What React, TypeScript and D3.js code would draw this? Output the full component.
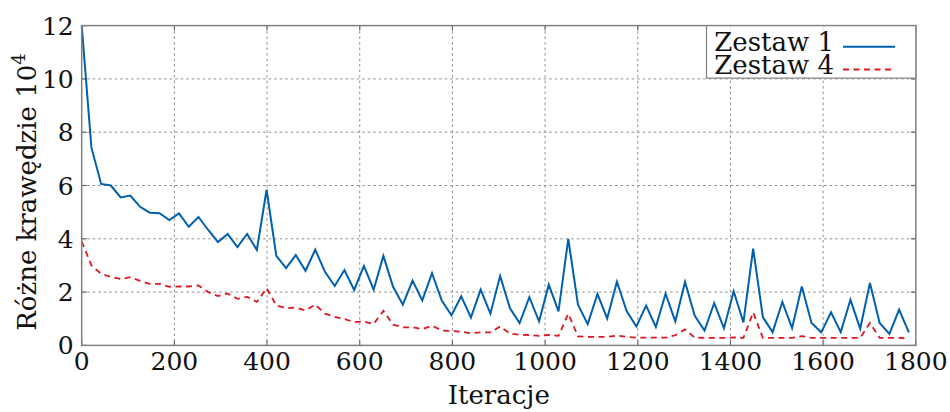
import React from "react";
import * as d3 from "d3";

const iterations = [
  0, 21, 42, 63, 84, 105, 126, 147, 168, 189, 210, 231, 252, 273, 294, 315, 336, 357, 378, 399,
  420, 441, 462, 483, 504, 525, 546, 567, 588, 609, 630, 651, 672, 693, 714, 735, 756, 777, 798, 819,
  840, 861, 882, 903, 924, 945, 966, 987, 1008, 1029, 1050, 1071, 1092, 1113, 1134, 1155, 1176, 1197, 1218, 1239,
  1260, 1281, 1302, 1323, 1344, 1365, 1386, 1407, 1428, 1449, 1470, 1491, 1512, 1533, 1554, 1575, 1596, 1617, 1638, 1659,
  1680, 1701, 1722, 1743, 1764, 1785,
];

const zestaw1 = [
  12.0, 7.42, 6.06, 6.0, 5.55, 5.62, 5.2, 4.98, 4.96, 4.7, 4.95, 4.45, 4.82, 4.33, 3.88, 4.18, 3.69, 4.18, 3.58, 5.84,
  3.36, 2.9, 3.39, 2.8, 3.59, 2.76, 2.23, 2.83, 2.08, 2.98, 2.09, 3.36, 2.2, 1.53, 2.43, 1.69, 2.71, 1.68, 1.13, 1.84,
  1.04, 2.09, 1.19, 2.61, 1.4, 0.84, 1.81, 0.9, 2.28, 1.28, 4.0, 1.53, 0.8, 1.93, 1.01, 2.39, 1.29, 0.71, 1.49, 0.69,
  1.94, 0.9, 2.38, 1.11, 0.56, 1.59, 0.64, 2.03, 0.86, 3.63, 1.06, 0.5, 1.63, 0.65, 2.21, 0.84, 0.49, 1.24, 0.5, 1.71,
  0.63, 2.34, 0.84, 0.43, 1.34, 0.49,
];

const zestaw4 = [
  3.9, 3.0, 2.69, 2.57, 2.49, 2.56, 2.42, 2.31, 2.31, 2.2, 2.21, 2.21, 2.25, 2.0, 1.85, 1.95, 1.75, 1.82, 1.63, 2.15,
  1.5, 1.39, 1.42, 1.31, 1.53, 1.19, 1.07, 0.99, 0.87, 0.9, 0.8, 1.3, 0.78, 0.68, 0.68, 0.61, 0.74, 0.56, 0.54, 0.51,
  0.46, 0.49, 0.49, 0.71, 0.44, 0.4, 0.39, 0.36, 0.39, 0.36, 1.19, 0.34, 0.32, 0.32, 0.32, 0.37, 0.32, 0.29, 0.29, 0.29,
  0.29, 0.38, 0.6, 0.29, 0.28, 0.28, 0.28, 0.3, 0.28, 1.24, 0.28, 0.28, 0.28, 0.28, 0.35, 0.28, 0.28, 0.28, 0.28, 0.28,
  0.28, 0.84, 0.28, 0.28, 0.28, 0.26,
];

const xTicks = [0, 200, 400, 600, 800, 1000, 1200, 1400, 1600, 1800];
const yTicks = [0, 2, 4, 6, 8, 10, 12];
const seriesNames = ["Zestaw 1", "Zestaw 4"];
const xLabel = "Iteracje";
const yLabel = "Różne krawędzie 10";
const yLabelSup = "4";

const W = 950;
const H = 412;
const L = 81.7;
const R = 915.8;
const T = 25.6;
const B = 345.4;
const FONT = "'DejaVu Serif', serif";
const BLUE = "#0060ad";
const RED = "#dd181f";
const GRID = "#8c8c8c";

export default function App() {
  const x = d3.scaleLinear().domain([0, 1800]).range([L, R]);
  const y = d3.scaleLinear().domain([0, 12]).range([B, T]);
  const line = d3
    .line<number>()
    .x((_, i) => x(iterations[i]))
    .y((d) => y(d));

  const txt = { fontFamily: FONT };

  return (
    <svg
      width={W}
      height={H}
      style={{ position: "absolute", left: 0, top: 0, background: "#fff", fontFamily: FONT }}
    >
      {xTicks.slice(1, -1).map((t) => (
        <line key={"gx" + t} x1={x(t)} x2={x(t)} y1={T} y2={B} stroke={GRID} strokeWidth={1} strokeDasharray="2.5,3" />
      ))}
      {yTicks.slice(1, -1).map((t) => (
        <line key={"gy" + t} x1={L} x2={R} y1={y(t)} y2={y(t)} stroke={GRID} strokeWidth={1} strokeDasharray="2.5,3" />
      ))}
      {xTicks.map((t) => (
        <g key={"tx" + t}>
          <line x1={x(t)} x2={x(t)} y1={B} y2={B - 5} stroke="#666" strokeWidth={1.2} />
          <line x1={x(t)} x2={x(t)} y1={T} y2={T + 5} stroke="#666" strokeWidth={1.2} />
          <text x={x(t)} y={B + 25} textAnchor="middle" fontSize={25} fill="#111" style={txt}>
            {t}
          </text>
        </g>
      ))}
      {yTicks.map((t) => (
        <g key={"ty" + t}>
          <line x1={L} x2={L + 5} y1={y(t)} y2={y(t)} stroke="#666" strokeWidth={1.2} />
          <line x1={R} x2={R - 5} y1={y(t)} y2={y(t)} stroke="#666" strokeWidth={1.2} />
          <text x={L - 8} y={y(t) + 9} textAnchor="end" fontSize={25} fill="#111" style={txt}>
            {t}
          </text>
        </g>
      ))}
      <path d={line(zestaw4) || ""} fill="none" stroke={RED} strokeWidth={1.8} strokeDasharray="6,4.5" />
      <path d={line(zestaw1) || ""} fill="none" stroke={BLUE} strokeWidth={2} />
      <rect x={L} y={T} width={R - L} height={B - T} fill="none" stroke="#808080" strokeWidth={1.5} />
      <rect x={706.5} y={T} width={R - 706.5} height={52.5} fill="#fff" fillOpacity={0.85} stroke="#808080" strokeWidth={1.2} />
      <text x={834} y={51} textAnchor="end" fontSize={26} fill="#111" style={txt}>
        {seriesNames[0]}
      </text>
      <line x1={843} x2={895} y1={46.7} y2={46.7} stroke={BLUE} strokeWidth={2} />
      <text x={834} y={74} textAnchor="end" fontSize={26} fill="#111" style={txt}>
        {seriesNames[1]}
      </text>
      <line x1={843} x2={895} y1={69.5} y2={69.5} stroke={RED} strokeWidth={1.8} strokeDasharray="6,4.5" />
      <text x={(L + R) / 2} y={404} textAnchor="middle" fontSize={26} fill="#111" style={txt}>
        {xLabel}
      </text>
      <text transform={`translate(36, 192) rotate(-90)`} textAnchor="middle" fontSize={26} fill="#111" style={txt}>
        {yLabel}
        <tspan fontSize={18} dy={-11}>
          {yLabelSup}
        </tspan>
      </text>
    </svg>
  );
}
